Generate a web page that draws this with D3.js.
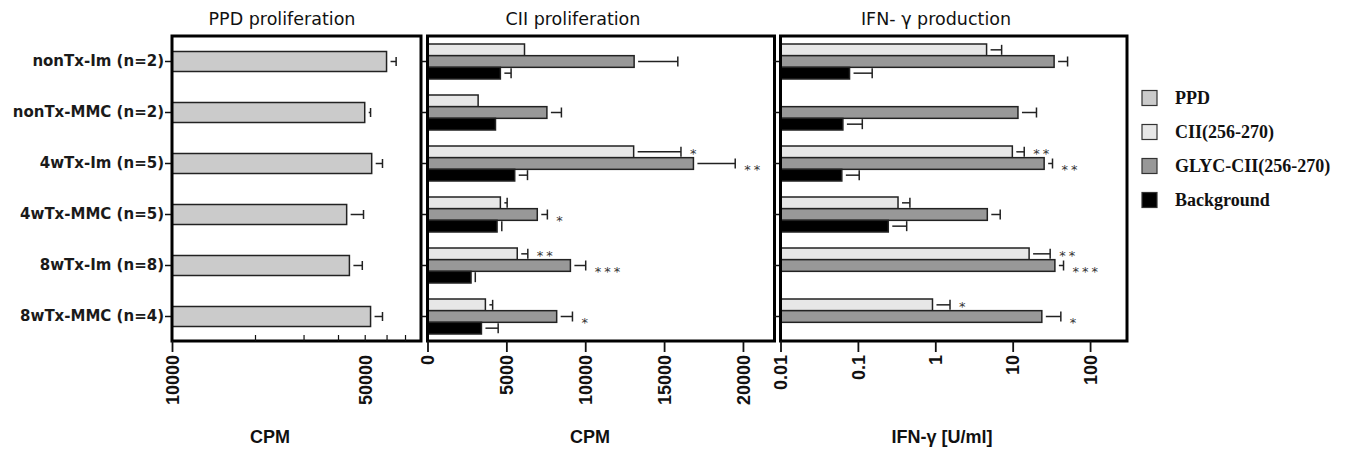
<!DOCTYPE html>
<html>
<head>
<meta charset="utf-8">
<title>PPD / CII proliferation and IFN-γ production</title>
<script src="https://d3js.org/d3.v7.min.js"></script>
<style>
    html, body { margin: 0; padding: 0; background: #fff; }
    svg { display: block; }
    .panel-title { font-family: "DejaVu Sans", Verdana, sans-serif; font-size: 17.5px; fill: #111; text-anchor: middle; }
    .row-label { font-family: "DejaVu Sans", Verdana, sans-serif; font-weight: bold; font-size: 15px; fill: #1a1a1a; }
    .tick-label { font-family: "Liberation Sans", Arial, sans-serif; font-weight: bold; font-size: 18px; fill: #111; }
    .axis-title { font-family: "Liberation Sans Narrow", "Arial Narrow", "Liberation Sans", sans-serif; font-weight: bold; font-size: 18px; fill: #111; text-anchor: middle; }
    .legend-label { font-family: "Liberation Serif", "Times New Roman", serif; font-weight: bold; font-size: 18px; fill: #111; }
    .star { font-family: "DejaVu Sans", Verdana, sans-serif; font-size: 13px; fill: #333; letter-spacing: 3px; }
</style>
</head>
<body>
<svg id="chart" width="1345" height="451"></svg>
<script>
// rows (top to bottom)
const categories = ["nonTx-Im (n=2)", "nonTx-MMC (n=2)", "4wTx-Im (n=5)", "4wTx-MMC (n=5)", "8wTx-Im (n=8)", "8wTx-MMC (n=4)"];

// PPD proliferation, CPM
const ppdMean = [60000, 50000, 53000, 43000, 44000, 52500];
const ppdSem = [5000, 2500, 5000, 6500, 5000, 5500];

// CII proliferation, CPM
const ciiProlifMean = [6150, 3210, 13070, 4620, 5690, 3670];
const ciiProlifSem = [null, null, 3000, 430, 670, 460];
const glycProlifMean = [13100, 7570, 16860, 6960, 9060, 8190];
const glycProlifSem = [2770, 920, 2650, 640, 970, 1000];
const bgProlifMean = [4620, 4310, 5530, 4410, 2760, 3420];
const bgProlifSem = [680, null, 810, 300, 270, 1060];

// IFN-gamma production, U/ml
const ciiIfnMean = [4.6, null, 9.9, 0.33, 16.3, 0.92];
const ciiIfnSem = [2.6, null, 4.2, 0.14, 14.2, 0.63];
const glycIfnMean = [34.3, 11.7, 25.5, 4.7, 35.1, 23.8];
const glycIfnSem = [16.9, 8.6, 7.2, 2.2, 10.3, 18.1];
const bgIfnMean = [0.078, 0.064, 0.062, 0.247, null, null];
const bgIfnSem = [0.075, 0.05, 0.042, 0.18, null, null];

// significance marks
const ciiProlifStars = ["", "", "*", "", "**", ""];
const glycProlifStars = ["", "", "**", "*", "***", "*"];
const ciiIfnStars = ["", "", "**", "", "**", "*"];
const glycIfnStars = ["", "", "**", "", "***", "*"];

const seriesNames = ["PPD", "CII(256-270)", "GLYC-CII(256-270)", "Background"];
const seriesColors = ["#cbcbcb", "#e7e7e7", "#989898", "#000000"];

const ppdTicks = [10000, 50000];
const ppdMinorTicks = [20000, 30000, 40000, 50000, 60000, 70000];
const ciiTicks = [0, 5000, 10000, 15000, 20000];
const ifnTicks = [0.01, 0.1, 1, 10, 100];

const plotTop = 36, plotBottom = 341;
const svg = d3.select("#chart");

const y = d3.scaleBand().domain(categories).range([plotTop, plotBottom + 1]);
const sub = d3.scaleBand().domain([1, 2, 3]).range([-17.5, 17.5]);

const xPPD = d3.scaleLog().domain([10000, 80000]).range([172, 421]);
const xCII = d3.scaleLinear().domain([0, 22000]).range([427.5, 774.5]);
const xIFN = d3.scaleLog().domain([0.01, 300]).range([780.5, 1127]);

function drawSeries(g, x, mean, sem, stars, color, y0, h, capH, starShift) {
    const x0 = x.range()[0];
    categories.forEach((c, i) => {
        if (mean[i] == null) return;
        const cy = y(c) + y.bandwidth() / 2 + y0;
        const xe = x(mean[i]);
        g.append("rect")
            .attr("x", x0).attr("y", cy - h / 2)
            .attr("width", xe - x0).attr("height", h)
            .attr("fill", color).attr("stroke", "#222").attr("stroke-width", 1.5);
        let xs = xe;
        if (sem[i] != null) {
            xs = x(mean[i] + sem[i]);
            g.append("line").attr("x1", xe + 4).attr("x2", xs).attr("y1", cy).attr("y2", cy)
                .attr("stroke", "#222").attr("stroke-width", 1.5);
            g.append("line").attr("x1", xs).attr("x2", xs).attr("y1", cy - capH / 2).attr("y2", cy + capH / 2)
                .attr("stroke", "#222").attr("stroke-width", 1.5);
        }
        if (stars && stars[i]) {
            g.append("text").attr("class", "star")
                .attr("x", xs + 9).attr("y", cy + 9 + starShift).text(stars[i]);
        }
    });
}

function drawFrame(x, showLabels) {
    const [x0, x1] = x.range();
    const ax = svg.append("g").attr("transform", "translate(" + x0 + ",0)")
        .call(d3.axisLeft(y).tickSize(7).tickPadding(1).tickFormat(showLabels ? null : ""));
    ax.select(".domain").remove();
    ax.selectAll(".tick line").attr("stroke", "#111").attr("stroke-width", 1.5);
    ax.selectAll("text").attr("class", "row-label").attr("fill", null);
    svg.append("rect").attr("x", x0).attr("y", plotTop).attr("width", x1 - x0).attr("height", plotBottom - plotTop)
        .attr("fill", "none").attr("stroke", "#000").attr("stroke-width", 3);
}

function bottomAxis(x, ticks, size) {
    const ax = svg.append("g").attr("transform", "translate(0," + plotBottom + ")")
        .call(d3.axisBottom(x).tickValues(ticks).tickSize(size).tickFormat(d => String(d)));
    ax.select(".domain").remove();
    ax.selectAll(".tick line").attr("stroke", "#111").attr("stroke-width", 1.8);
    ax.selectAll("text").attr("class", "tick-label").attr("fill", null)
        .attr("transform", "rotate(-90)").attr("x", -14).attr("y", 0).attr("dy", "0.35em")
        .style("text-anchor", "end");
    return ax;
}

// PPD panel
const gPPD = svg.append("g");
drawSeries(gPPD, xPPD, ppdMean, ppdSem, null, seriesColors[0], 0, 20, 9, 0);
drawFrame(xPPD, true);
const minor = svg.append("g").attr("transform", "translate(0," + plotBottom + ")")
    .call(d3.axisBottom(xPPD).tickValues(ppdMinorTicks).tickSize(-6).tickFormat(""));
minor.select(".domain").remove();
minor.selectAll(".tick line").attr("stroke", "#111").attr("stroke-width", 1.2);
const ppdAxis = bottomAxis(xPPD, ppdTicks, 11);
ppdAxis.selectAll(".tick line").filter(d => d !== 10000).remove();

// CII panel
const gCII = svg.append("g");
drawSeries(gCII, xCII, ciiProlifMean, ciiProlifSem, ciiProlifStars, seriesColors[1], sub(1) + sub.bandwidth() / 2, sub.bandwidth(), 10, -3);
drawSeries(gCII, xCII, glycProlifMean, glycProlifSem, glycProlifStars, seriesColors[2], sub(2) + sub.bandwidth() / 2, sub.bandwidth(), 10, 1);
drawSeries(gCII, xCII, bgProlifMean, bgProlifSem, null, seriesColors[3], sub(3) + sub.bandwidth() / 2, sub.bandwidth(), 10, 0);
drawFrame(xCII, false);
bottomAxis(xCII, ciiTicks, 11);

// IFN panel
const gIFN = svg.append("g");
drawSeries(gIFN, xIFN, ciiIfnMean, ciiIfnSem, ciiIfnStars, seriesColors[1], sub(1) + sub.bandwidth() / 2, sub.bandwidth(), 10, -3);
drawSeries(gIFN, xIFN, glycIfnMean, glycIfnSem, glycIfnStars, seriesColors[2], sub(2) + sub.bandwidth() / 2, sub.bandwidth(), 10, 1);
drawSeries(gIFN, xIFN, bgIfnMean, bgIfnSem, null, seriesColors[3], sub(3) + sub.bandwidth() / 2, sub.bandwidth(), 10, 0);
drawFrame(xIFN, false);
bottomAxis(xIFN, ifnTicks, 11);

// titles
svg.append("text").attr("class", "panel-title").attr("x", 282).attr("y", 25).text("PPD proliferation");
svg.append("text").attr("class", "panel-title").attr("x", 573).attr("y", 25).text("CII proliferation");
svg.append("text").attr("class", "panel-title").attr("x", 936).attr("y", 25).text("IFN- γ production");

svg.append("text").attr("class", "axis-title").attr("x", 270).attr("y", 443).text("CPM");
svg.append("text").attr("class", "axis-title").attr("x", 590).attr("y", 443).text("CPM");
svg.append("text").attr("class", "axis-title").attr("x", 942).attr("y", 443).text("IFN-γ [U/ml]");

// legend
const legend = svg.append("g").attr("transform", "translate(1142,0)");
seriesNames.forEach((name, i) => {
    const cy = 98 + i * 34;
    legend.append("rect").attr("x", 0).attr("y", cy - 7.5).attr("width", 15).attr("height", 15)
        .attr("fill", seriesColors[i]).attr("stroke", "#333").attr("stroke-width", 1.2);
    legend.append("text").attr("class", "legend-label").attr("x", 33).attr("y", cy + 6).text(name);
});
</script>
</body>
</html>
